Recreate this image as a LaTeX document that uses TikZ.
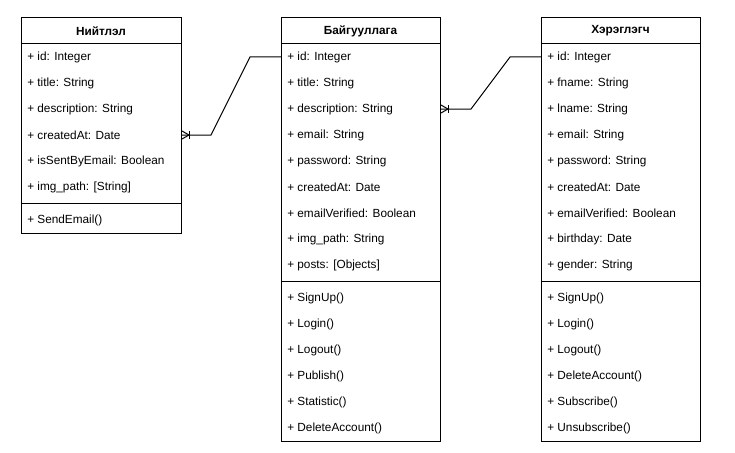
\documentclass[tikz,border=0pt]{standalone}
\usepackage{fontspec}
\setmainfont{Liberation Sans}
\usetikzlibrary{positioning}
\usetikzlibrary{calc}

\tikzset{
  classbox/.style={draw,line width=0.75pt,rectangle,anchor=north west,inner sep=0pt},
  classname/.style={font=\fontsize{8.85}{11}\selectfont\bfseries,inner sep=0pt},
  member/.style={font=\fontsize{8.85}{11}\selectfont,anchor=west,inner sep=0pt},
  link/.style={draw=black,line width=0.75pt},
  manyone/.pic={
    \draw[line width=0.75pt] (0,-4) -- (7,0) -- (0,4);
    \draw[line width=0.75pt] (7,-4) -- (7,4);
  }
}

\begin{document}
\begin{tikzpicture}[x=0.75pt,y=-0.75pt]
  \useasboundingbox (0,0) rectangle (735,453);

  % Нийтлэл
  \node[classbox,minimum width=160*0.75pt,minimum height=216*0.75pt] (niitlel) at (21,17) {};
  \node[classname] (niitlel-name) at (101,31) {Нийтлэл};
  \draw[line width=0.75pt] (21,44) -- (181,44);
  \foreach \txt [count=\i] in {id: Integer,title: String,description: String,createdAt: Date,isSentByEmail: Boolean,img\_path: [String]}
    \node[member] (n\i) at (27,57+26*\i-26) {+ \txt};
  \draw[line width=0.75pt] (21,203) -- (181,203);
  \node[member] (nm1) at (27,220) {+ SendEmail()};

  % Байгууллага
  \node[classbox,minimum width=159*0.75pt,minimum height=424*0.75pt] (baiguullaga) at (281,17) {};
  \node[classname] (baiguullaga-name) at (360.5,31) {Байгууллага};
  \draw[line width=0.75pt] (281,44) -- (440,44);
  \foreach \txt [count=\i] in {id: Integer,title: String,description: String,email: String,password: String,createdAt: Date,emailVerified: Boolean,img\_path: String,posts: [Objects]}
    \node[member] (b\i) at (287,57+26*\i-26) {+ \txt};
  \draw[line width=0.75pt] (281,281) -- (440,281);
  \foreach \txt [count=\i] in {SignUp(),Login(),Logout(),Publish(),Statistic(),DeleteAccount()}
    \node[member] (bm\i) at (287,298+26*\i-26) {+ \txt};

  % Хэрэглэгч
  \node[classbox,minimum width=159*0.75pt,minimum height=424*0.75pt] (hereglegch) at (541,17) {};
  \node[classname] (hereglegch-name) at (620.5,31) {Хэрэглэгч};
  \draw[line width=0.75pt] (541,44) -- (700,44);
  \foreach \txt [count=\i] in {id: Integer,fname: String,lname: String,email: String,password: String,createdAt: Date,emailVerified: Boolean,birthday: Date,gender: String}
    \node[member] (h\i) at (547,57+26*\i-26) {+ \txt};
  \draw[line width=0.75pt] (541,281) -- (700,281);
  \foreach \txt [count=\i] in {SignUp(),Login(),Logout(),DeleteAccount(),Subscribe(),Unsubscribe()}
    \node[member] (hm\i) at (547,298+26*\i-26) {+ \txt};

  % connectors
  \coordinate (c1) at (niitlel.east |- n4);
  \coordinate (c2) at (baiguullaga.east |- b3);
  \path[link] (c1) -- ++(29,0) -- ($(baiguullaga.west |- b1)+(-31,0)$) -- (baiguullaga.west |- b1);
  \path[link] (c2) -- ++(30,0) -- ($(hereglegch.west |- h1)+(-31,0)$) -- (hereglegch.west |- h1);
  \pic at (c1) {manyone};
  \pic at (c2) {manyone};
\end{tikzpicture}
\end{document}
